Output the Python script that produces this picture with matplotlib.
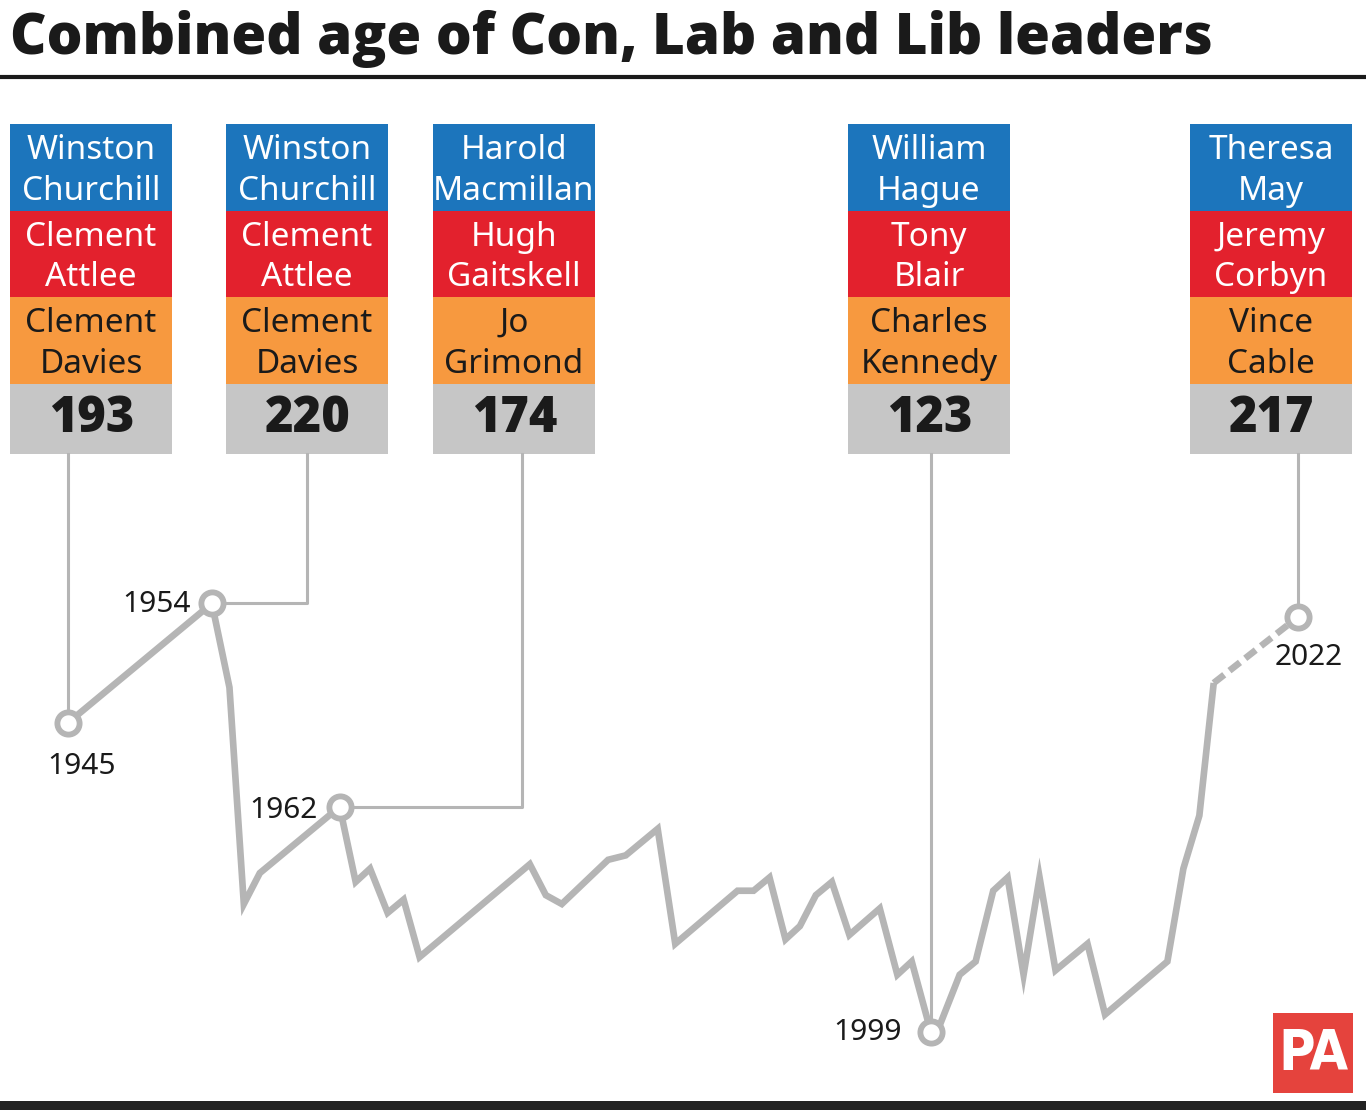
import matplotlib.pyplot as plt
from matplotlib.patches import Rectangle
from matplotlib import font_manager

installed = {f.name for f in font_manager.fontManager.ttflist}
FONT = "Noto Sans"
BOLD_FONT = "Open Sans"
LOGO_FONT = "Liberation Sans Narrow" if "Liberation Sans Narrow" in installed else "DejaVu Sans"
plt.rcParams["font.family"] = [FONT, "DejaVu Sans"]

TITLE = "Combined age of Con, Lab and Lib leaders"

# combined age of the three party leaders
years = [1945, 1954, 1955.1, 1956.0, 1957.0, 1962, 1963.0, 1963.9, 1965.0, 1966.0, 1967.0,
         1973.9, 1974.9, 1975.9, 1978.8, 1979.9, 1981.9, 1983.0, 1986.9, 1987.9, 1988.9,
         1989.9, 1990.8, 1991.8, 1992.8, 1993.9, 1995.8, 1996.9, 1997.8, 1999, 1999.6,
         2000.8, 2001.8, 2002.9, 2003.8, 2004.8, 2005.8, 2006.8, 2008.8, 2009.9, 2013.8,
         2014.8, 2015.8, 2016.7]
ages = [193, 220, 201, 152, 159, 174, 157, 160, 150, 153, 140,
        161, 154, 152, 162, 163, 169, 143, 155, 155, 158,
        144, 147, 154, 157, 145, 151, 136, 139, 123, 125,
        136, 139, 155, 158, 136, 158, 137, 143, 127, 139,
        160, 172, 202]
# projected part (dashed)
proj_years = [2016.7, 2022]
proj_ages = [202, 217]

# highlighted years
mark_years = [1945, 1954, 1962, 1999, 2022]
mark_ages = [193, 220, 174, 123, 217]
con = ["Winston\nChurchill", "Winston\nChurchill", "Harold\nMacmillan", "William\nHague", "Theresa\nMay"]
lab = ["Clement\nAttlee", "Clement\nAttlee", "Hugh\nGaitskell", "Tony\nBlair", "Jeremy\nCorbyn"]
lib = ["Clement\nDavies", "Clement\nDavies", "Jo\nGrimond", "Charles\nKennedy", "Vince\nCable"]

BLUE = "#1c75bc"
RED = "#e3212d"
ORANGE = "#f7993f"
BOXGREY = "#c6c6c6"
LINEGREY = "#b5b5b5"
INK = "#1a1a1a"

W, H = 1366, 1110
fig = plt.figure(figsize=(W / 100, H / 100), dpi=100)
fig.patch.set_facecolor("white")

# layout layer in pixel units
lay = fig.add_axes([0, 0, 1, 1], zorder=1)
lay.set_xlim(0, W)
lay.set_ylim(H, 0)
lay.axis("off")

# data layer
ax = fig.add_axes([0, 0, 1, 1], zorder=2)
ax.set_xlim(1940.74, 2026.23)
ax.set_ylim(105.4, 356.5)
ax.axis("off")

ax.plot(years, ages, color=LINEGREY, lw=4.8, solid_joinstyle="miter", solid_capstyle="butt", zorder=3)
ax.plot(proj_years, proj_ages, color=LINEGREY, lw=4.8, ls=(0, (2.0, 1.0)), zorder=3)
ax.plot(mark_years, mark_ages, "o", ms=16, mfc="white", mec=LINEGREY, mew=4.2, ls="none", zorder=5)


def to_px(x, y):
    return lay.transData.inverted().transform(ax.transData.transform((x, y)))


# label offsets (pixels) and alignment for the highlighted years
lab_off = [(13, -40, "center"), (-21, 2, "right"), (-22, 0, "right"), (-29, 3, "right"), (10, -37, "center")]
for yr, ag, (dx, dy, ha) in zip(mark_years, mark_ages, lab_off):
    ax.annotate(str(yr), (yr, ag), xytext=(dx, dy), textcoords="offset pixels",
                ha=ha, va="center_baseline", fontsize=21.5, color=INK, zorder=6)

# boxes
box_left = [10, 226, 433, 848, 1190]
elbow_x = [None, 307, 522, None, None]
BOX_W = 162
TOP = 124
SEC = 86.5
NUM_H = 70
box_bottom = TOP + 3 * SEC + NUM_H

for i, left in enumerate(box_left):
    cx = left + BOX_W / 2
    for k, (txt, col, tcol) in enumerate([(con[i], BLUE, "white"), (lab[i], RED, "white"),
                                           (lib[i], ORANGE, INK)]):
        top = TOP + k * SEC
        lay.add_patch(Rectangle((left, top), BOX_W, SEC, facecolor=col, edgecolor="none"))
        for j, line in enumerate(txt.split("\n")):
            lay.text(cx, top + 35 + j * 41, line, ha="center", va="baseline",
                     fontsize=24, color=tcol)
    ntop = TOP + 3 * SEC
    lay.add_patch(Rectangle((left, ntop), BOX_W, NUM_H, facecolor=BOXGREY, edgecolor="none"))
    lay.text(cx + 1, ntop + 49, str(mark_ages[i]), ha="center", va="baseline",
             fontsize=35, fontweight="heavy", color=INK, family=[BOLD_FONT, "DejaVu Sans"])

    px, py = to_px(mark_years[i], mark_ages[i])
    if elbow_x[i] is None:
        lay.plot([px, px], [box_bottom, py], color=LINEGREY, lw=2.2, zorder=2)
    else:
        ex = elbow_x[i]
        lay.plot([ex, ex, px], [box_bottom, py, py], color=LINEGREY, lw=2.2, zorder=2)

# title and rules
lay.text(10, 54, TITLE, ha="left", va="baseline", fontsize=40.6, fontweight="heavy", color=INK,
         family=[BOLD_FONT, "DejaVu Sans"])
lay.plot([0, W], [77, 77], color=INK, lw=3)
lay.add_patch(Rectangle((0, 1101), W, 9, facecolor="#222222", edgecolor="none"))

# PA logo
lay.add_patch(Rectangle((1273, 1013), 80, 80, facecolor="#e5433d", edgecolor="none"))
lay.text(1313, 1054, "PA", ha="center", va="center", fontsize=40, fontweight="bold",
         fontstretch="condensed", color="white", family=[LOGO_FONT, "DejaVu Sans"])

fig.savefig("out.png", dpi=100, facecolor="white")
